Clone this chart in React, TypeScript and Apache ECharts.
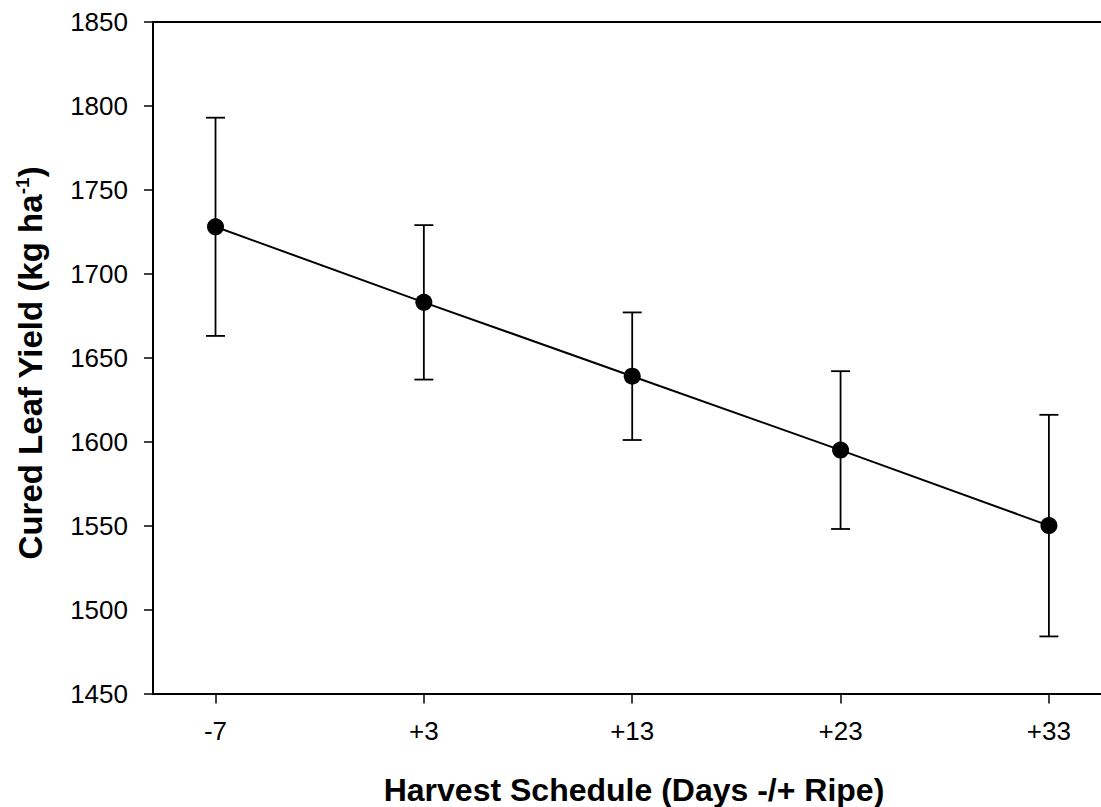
import React, { useEffect, useRef } from "react";
import * as echarts from "echarts";

const days = [-7, 3, 13, 23, 33];
const yieldMeans = [1728, 1683, 1639, 1595, 1550];
const errLow = [1663, 1637, 1601, 1548, 1484];
const errHigh = [1793, 1729, 1677, 1642, 1616];
const yTicks = { min: 1450, max: 1850, interval: 50 };
const xTitle = "Harvest Schedule (Days -/+ Ripe)";
const yTitle = "Cured Leaf Yield (kg ha";

const FONT = "'Liberation Sans', Arial, sans-serif";

export default function App() {
  const ref = useRef<HTMLDivElement>(null);
  useEffect(() => {
    if (!ref.current) return;
    const chart = echarts.init(ref.current, undefined, { renderer: "svg" });
    const fmt = (v: number) => (v < 0 ? String(v) : "+" + v);
    chart.setOption({
      animation: false,
      backgroundColor: "#ffffff",
      grid: { left: 153, right: 0, top: 22, bottom: 113.5, containLabel: false },
      xAxis: [
        {
          type: "value",
          min: -10,
          max: 35.5,
          splitLine: { show: false },
          axisLine: { show: true, onZero: false, lineStyle: { color: "#000", width: 2 } },
          axisTick: { show: true, customValues: days, length: 10, inside: false, lineStyle: { color: "#000", width: 1.5 } },
          axisLabel: {
            customValues: days,
            formatter: fmt,
            color: "#000",
            fontFamily: FONT,
            fontSize: 26,
            margin: 24,
          },
        },
        {
          type: "value",
          position: "top",
          min: -10,
          max: 35.5,
          splitLine: { show: false },
          axisLine: { show: true, onZero: false, lineStyle: { color: "#000", width: 2 } },
          axisTick: { show: false },
          axisLabel: { show: false },
        },
      ],
      yAxis: {
        type: "value",
        min: yTicks.min,
        max: yTicks.max,
        interval: yTicks.interval,
        splitLine: { show: false },
        axisLine: { show: true, onZero: false, lineStyle: { color: "#000", width: 2 } },
        axisTick: { show: true, length: 9, inside: false, lineStyle: { color: "#000", width: 1.5 } },
        axisLabel: {
          color: "#000",
          fontFamily: FONT,
          fontSize: 26,
          margin: 25,
          formatter: (v: number) => String(v),
        },
      },
      graphic: [
        {
          type: "text",
          x: 634,
          y: 790,
          style: {
            text: xTitle,
            font: `bold 32px ${FONT}`,
            fill: "#000",
            textAlign: "center",
            textVerticalAlign: "middle",
          },
        },
        {
          type: "text",
          x: 30,
          y: 363,
          rotation: Math.PI / 2,
          style: {
            text: `${yTitle}{sup|-1}{n|)}`,
            font: `bold 33px ${FONT}`,
            fill: "#000",
            textAlign: "center",
            textVerticalAlign: "middle",
            rich: {
              sup: { fontSize: 19, fontWeight: "bold", fontFamily: FONT, verticalAlign: "top", padding: [0, 0, 15, 0] },
              n: { fontSize: 33, fontWeight: "bold", fontFamily: FONT },
            },
          },
        },
      ],
      series: [
        {
          type: "custom",
          z: 1,
          xAxisIndex: 0,
          data: days.map((d, i) => [d, errLow[i], errHigh[i]]),
          renderItem: (params: any, api: any) => {
            const lo = api.coord([api.value(0), api.value(1)]);
            const hi = api.coord([api.value(0), api.value(2)]);
            const hw = 9.5;
            const style = { stroke: "#000", lineWidth: 1.8 };
            return {
              type: "group",
              children: [
                { type: "line", shape: { x1: lo[0], y1: lo[1], x2: hi[0], y2: hi[1] }, style },
                { type: "line", shape: { x1: lo[0] - hw, y1: lo[1], x2: lo[0] + hw, y2: lo[1] }, style },
                { type: "line", shape: { x1: hi[0] - hw, y1: hi[1], x2: hi[0] + hw, y2: hi[1] }, style },
              ],
            };
          },
        },
        {
          type: "line",
          z: 3,
          xAxisIndex: 0,
          data: days.map((d, i) => [d, yieldMeans[i]]),
          symbol: "circle",
          symbolSize: 17,
          itemStyle: { color: "#000" },
          lineStyle: { color: "#000", width: 2 },
        },
      ],
    });
    return () => chart.dispose();
  }, []);
  return (
    <div
      ref={ref}
      style={{ position: "absolute", left: 0, top: 0, width: 1101, height: 807 }}
    />
  );
}
